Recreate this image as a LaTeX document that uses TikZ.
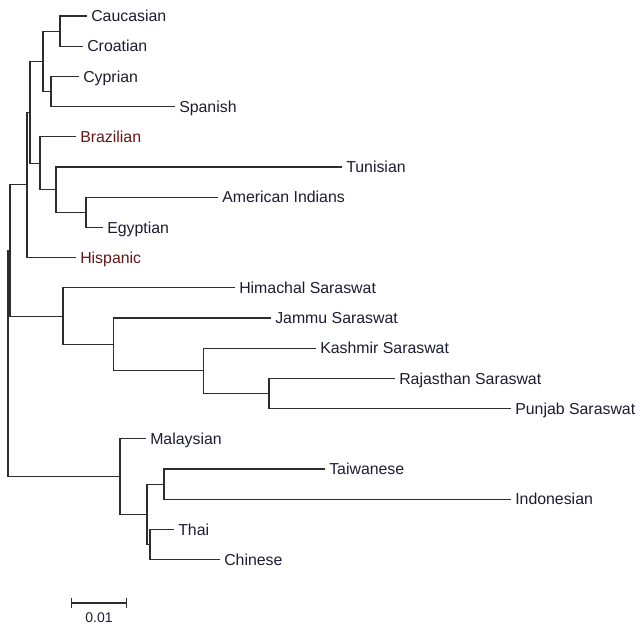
\documentclass[tikz,border=0pt]{standalone}
\usepackage{fontspec}
\setmainfont{Liberation Sans}
\usetikzlibrary{arrows.meta}

\definecolor{taxon}{RGB}{28,28,50}
\definecolor{taxonred}{RGB}{100,22,22}
\definecolor{treeline}{RGB}{45,45,45}

\begin{document}
\begin{tikzpicture}[
  x={(0.75pt,0)},
  y={(0,-0.75pt)},
  leaf/.style={anchor=west, inner xsep=3pt, inner ysep=0pt,
    text height=8.45pt, text depth=0pt,
    font=\fontsize{11.9pt}{14pt}\selectfont},
  branch/.style={draw=treeline, line width=0.85pt}]
\useasboundingbox (0,0) rectangle (642,626);
% Taxa: name / tip x / tip y / colour / label
\foreach \nm/\x/\y/\col/\txt in {
  cau/87/16.0/taxon/Caucasian,
  cro/83/46.2/taxon/Croatian,
  cyp/79/76.4/taxon/Cyprian,
  spa/175/106.6/taxon/Spanish,
  bra/76/136.8/taxonred/Brazilian,
  tun/342/167.0/taxon/Tunisian,
  ami/218/197.2/taxon/American Indians,
  egy/103/227.4/taxon/Egyptian,
  his/76/257.6/taxonred/Hispanic,
  him/235/287.8/taxon/Himachal Saraswat,
  jam/271/318.0/taxon/Jammu Saraswat,
  kas/316/348.2/taxon/Kashmir Saraswat,
  raj/395/378.4/taxon/Rajasthan Saraswat,
  pun/511/408.6/taxon/Punjab Saraswat,
  mal/146/438.8/taxon/Malaysian,
  tai/325/469.0/taxon/Taiwanese,
  ind/511/499.2/taxon/Indonesian,
  tha/174/529.4/taxon/Thai,
  chi/220/559.6/taxon/Chinese} {
  \node[leaf, text=\col] (\nm) at (\x,\y) {\txt};
}
% Internal nodes (y = middle of the two children)
\foreach \nm/\x/\y in {
  n1/60/31.1, n2/51/91.5, n3/43/61.3, n4/86/212.3, n5/56/189.65,
  n6/40/163.2, n7/30/112.25, n8/27/184.9,
  s1/269/393.5, s2/203.5/370.85, s3/113.5/344.4, s4/63/316.1,
  n9/10/250.5,
  e1/164/484.1, e2/150/544.5, e3/147/514.3, e4/120/476.55,
  root/8/363.5} {
  \coordinate (\nm) at (\x,\y);
}
% Branches to the taxa
\foreach \p/\c in {n1/cau, n1/cro, n2/cyp, n2/spa, n6/bra, n5/tun,
  n4/ami, n4/egy, n8/his, s4/him, s3/jam, s2/kas, s1/raj, s1/pun,
  e4/mal, e1/tai, e1/ind, e2/tha, e2/chi} {
  \draw[branch] (\p) |- (\c.west);
}
% Branches between internal nodes
\foreach \p/\c in {n3/n1, n3/n2, n5/n4, n6/n5, n7/n3, n7/n6, n8/n7,
  s2/s1, s3/s2, s4/s3, n9/n8, n9/s4,
  e3/e1, e3/e2, e4/e3, root/n9, root/e4} {
  \draw[branch] (\p) |- (\c);
}
% Scale bar
\coordinate (sbl) at (71,603);
\coordinate (sbr) at (127,603);
\draw[branch, {Bar[width=7.5pt]}-{Bar[width=7.5pt]}] (sbl) -- (sbr);
\node[text=taxon, font=\fontsize{10.5pt}{12pt}\selectfont] (sbtext) at (99,618) {0.01};
\end{tikzpicture}
\end{document}
